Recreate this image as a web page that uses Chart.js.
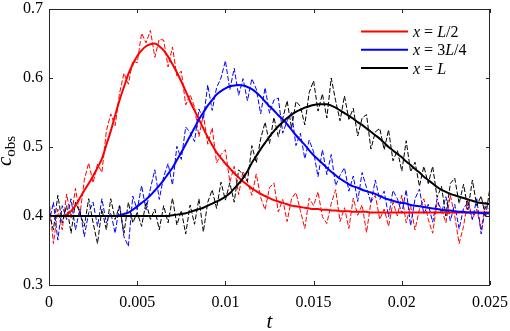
<!DOCTYPE html>
<html>
<head>
<meta charset="utf-8">
<script src="https://cdn.jsdelivr.net/npm/chart.js@4.4.1/dist/chart.umd.min.js"></script>
<style>
  html, body { margin: 0; padding: 0; background: #fff; }
  #wrap { width: 510px; height: 331px; }
</style>
</head>
<body>
<div id="wrap"><canvas id="chart" width="510" height="331"></canvas></div>
<script>
// sample times
const tVals = [
  0, 0.00025, 0.0005, 0.00075, 0.001, 0.00125, 0.0015, 0.00175, 0.002, 0.00225,
  0.0025, 0.00275, 0.003, 0.00325, 0.0035, 0.00375, 0.004, 0.00425, 0.0045, 0.00475,
  0.005, 0.00525, 0.0055, 0.00575, 0.006, 0.00625, 0.0065, 0.00675, 0.007, 0.00725,
  0.0075, 0.00775, 0.008, 0.00825, 0.0085, 0.00875, 0.009, 0.00925, 0.0095, 0.00975,
  0.01, 0.01025, 0.0105, 0.01075, 0.011, 0.01125, 0.0115, 0.01175, 0.012, 0.01225,
  0.0125, 0.01275, 0.013, 0.01325, 0.0135, 0.01375, 0.014, 0.01425, 0.0145, 0.01475,
  0.015, 0.01525, 0.0155, 0.01575, 0.016, 0.01625, 0.0165, 0.01675, 0.017, 0.01725,
  0.0175, 0.01775, 0.018, 0.01825, 0.0185, 0.01875, 0.019, 0.01925, 0.0195, 0.01975,
  0.02, 0.02025, 0.0205, 0.02075, 0.021, 0.02125, 0.0215, 0.02175, 0.022, 0.02225,
  0.0225, 0.02275, 0.023, 0.02325, 0.0235, 0.02375, 0.024, 0.02425, 0.0245, 0.02475,
  0.025
];

// fitted curves
const fitHalf = [
  0.400, 0.400, 0.400, 0.400, 0.402, 0.407, 0.415, 0.426, 0.437, 0.447,
  0.458, 0.470, 0.483, 0.503, 0.523, 0.546, 0.568, 0.587, 0.606, 0.620,
  0.632, 0.640, 0.646, 0.649, 0.650, 0.646, 0.640, 0.631, 0.620, 0.608,
  0.595, 0.581, 0.566, 0.553, 0.540, 0.527, 0.514, 0.503, 0.492, 0.484,
  0.476, 0.469, 0.462, 0.456, 0.450, 0.445, 0.440, 0.436, 0.432, 0.429,
  0.426, 0.423, 0.421, 0.419, 0.417, 0.415, 0.414, 0.413, 0.412, 0.411,
  0.410, 0.410, 0.409, 0.409, 0.408, 0.408, 0.407, 0.407, 0.407, 0.406,
  0.406, 0.406, 0.406, 0.405, 0.405, 0.405, 0.405, 0.405, 0.405, 0.405,
  0.405, 0.405, 0.405, 0.405, 0.405, 0.405, 0.405, 0.405, 0.405, 0.405,
  0.405, 0.405, 0.405, 0.405, 0.405, 0.405, 0.405, 0.405, 0.405, 0.405,
  0.405
];
const fitThreeQ = [
  0.400, 0.400, 0.400, 0.400, 0.400, 0.400, 0.400, 0.400, 0.400, 0.400,
  0.400, 0.400, 0.400, 0.400, 0.400, 0.400, 0.401, 0.403, 0.405, 0.409,
  0.414, 0.419, 0.424, 0.430, 0.437, 0.444, 0.452, 0.461, 0.470, 0.481,
  0.492, 0.504, 0.516, 0.528, 0.540, 0.550, 0.560, 0.568, 0.576, 0.581,
  0.585, 0.588, 0.589, 0.590, 0.589, 0.587, 0.584, 0.579, 0.573, 0.566,
  0.559, 0.553, 0.546, 0.540, 0.533, 0.525, 0.517, 0.510, 0.503, 0.495,
  0.488, 0.482, 0.476, 0.470, 0.464, 0.459, 0.454, 0.450, 0.446, 0.443,
  0.441, 0.438, 0.436, 0.434, 0.432, 0.429, 0.426, 0.424, 0.422, 0.420,
  0.419, 0.418, 0.416, 0.415, 0.414, 0.413, 0.412, 0.411, 0.410, 0.409,
  0.408, 0.408, 0.407, 0.406, 0.406, 0.405, 0.405, 0.405, 0.404, 0.404,
  0.404
];
const fitFull = [
  0.400, 0.400, 0.400, 0.400, 0.400, 0.400, 0.400, 0.400, 0.400, 0.400,
  0.400, 0.400, 0.400, 0.400, 0.400, 0.400, 0.400, 0.400, 0.400, 0.400,
  0.400, 0.400, 0.400, 0.400, 0.400, 0.400, 0.400, 0.400, 0.401, 0.402,
  0.403, 0.404, 0.406, 0.408, 0.410, 0.412, 0.415, 0.418, 0.421, 0.424,
  0.428, 0.433, 0.440, 0.447, 0.455, 0.465, 0.477, 0.487, 0.497, 0.506,
  0.515, 0.523, 0.530, 0.536, 0.542, 0.547, 0.551, 0.554, 0.557, 0.559,
  0.561, 0.562, 0.562, 0.562, 0.560, 0.557, 0.553, 0.549, 0.545, 0.541,
  0.536, 0.532, 0.527, 0.522, 0.517, 0.512, 0.506, 0.500, 0.495, 0.490,
  0.485, 0.479, 0.474, 0.468, 0.463, 0.457, 0.452, 0.447, 0.442, 0.438,
  0.435, 0.432, 0.430, 0.428, 0.426, 0.424, 0.422, 0.420, 0.419, 0.418,
  0.417
];

// observed (noisy) data
const obsHalf = [
  0.425, 0.360, 0.410, 0.380, 0.432, 0.397, 0.440, 0.401, 0.452, 0.477,
  0.448, 0.475, 0.463, 0.523, 0.548, 0.531, 0.578, 0.607, 0.591, 0.625,
  0.622, 0.665, 0.651, 0.669, 0.630, 0.656, 0.655, 0.616, 0.645, 0.603,
  0.610, 0.561, 0.576, 0.558, 0.515, 0.547, 0.504, 0.528, 0.477, 0.489,
  0.496, 0.449, 0.472, 0.431, 0.465, 0.450, 0.430, 0.461, 0.427, 0.409,
  0.441, 0.448, 0.406, 0.424, 0.392, 0.425, 0.434, 0.408, 0.382, 0.426,
  0.415, 0.435, 0.399, 0.389, 0.418, 0.438, 0.392, 0.412, 0.382, 0.426,
  0.401, 0.416, 0.376, 0.420, 0.430, 0.395, 0.410, 0.385, 0.420, 0.400,
  0.430, 0.390, 0.415, 0.380, 0.410, 0.425, 0.395, 0.375, 0.420, 0.410,
  0.390, 0.430, 0.400, 0.360, 0.385, 0.425, 0.395, 0.410, 0.380, 0.420,
  0.415
];
const obsThreeQ = [
  0.390, 0.420, 0.365, 0.415, 0.395, 0.425, 0.380, 0.410, 0.370, 0.405,
  0.420, 0.385, 0.425, 0.390, 0.405, 0.375, 0.416, 0.370, 0.356, 0.429,
  0.409, 0.444, 0.409, 0.440, 0.467, 0.424, 0.457, 0.476, 0.445, 0.501,
  0.482, 0.529, 0.521, 0.508, 0.555, 0.540, 0.590, 0.553, 0.586, 0.600,
  0.625, 0.583, 0.614, 0.575, 0.599, 0.567, 0.599, 0.584, 0.548, 0.586,
  0.549, 0.568, 0.571, 0.520, 0.538, 0.550, 0.502, 0.520, 0.483, 0.510,
  0.493, 0.457, 0.496, 0.460, 0.489, 0.444, 0.459, 0.470, 0.436, 0.458,
  0.421, 0.463, 0.441, 0.419, 0.452, 0.424, 0.436, 0.399, 0.437, 0.425,
  0.404, 0.438, 0.386, 0.425, 0.439, 0.403, 0.417, 0.391, 0.425, 0.404,
  0.428, 0.393, 0.417, 0.381, 0.411, 0.420, 0.395, 0.425, 0.374, 0.414,
  0.409
];
const obsFull = [
  0.405, 0.380, 0.430, 0.390, 0.415, 0.375, 0.420, 0.405, 0.385, 0.425,
  0.390, 0.360, 0.410, 0.380, 0.425, 0.395, 0.415, 0.375, 0.420, 0.390,
  0.405, 0.385, 0.420, 0.395, 0.410, 0.380, 0.415, 0.390, 0.426, 0.387,
  0.408, 0.374, 0.416, 0.388, 0.425, 0.377, 0.420, 0.438, 0.411, 0.449,
  0.423, 0.448, 0.420, 0.467, 0.460, 0.450, 0.502, 0.477, 0.512, 0.536,
  0.505, 0.543, 0.515, 0.541, 0.567, 0.527, 0.566, 0.559, 0.532, 0.579,
  0.596, 0.552, 0.577, 0.542, 0.600, 0.567, 0.538, 0.574, 0.540, 0.556,
  0.516, 0.542, 0.547, 0.497, 0.522, 0.527, 0.496, 0.525, 0.480, 0.495,
  0.465, 0.509, 0.464, 0.478, 0.443, 0.472, 0.447, 0.472, 0.427, 0.443,
  0.400, 0.447, 0.455, 0.418, 0.446, 0.409, 0.452, 0.415, 0.429, 0.398,
  0.442
];

const xTicks = [0, 0.005, 0.01, 0.015, 0.02, 0.025];
const yTicks = [0.3, 0.4, 0.5, 0.6, 0.7];

const legendItems = [
  { color: '#ff0000', runs: [['x', true], [' = ', false], ['L', true], ['/2', false]] },
  { color: '#0000ff', runs: [['x', true], [' = 3', false], ['L', true], ['/4', false]] },
  { color: '#000000', runs: [['x', true], [' = ', false], ['L', true]] }
];

const SERIF = '"Liberation Serif", "DejaVu Serif", serif';
const AXIS_COLOR = '#262626';

function toPoints(ys) {
    return tVals.map((t, i) => ({ x: t, y: ys[i] }));
}

function noisySet(ys, color, order) {
    return {
        data: toPoints(ys),
        borderColor: color,
        borderWidth: 1,
        borderDash: [5, 2],
        pointRadius: 0,
        fill: false,
        tension: 0,
        order: order
    };
}

function fitSet(ys, color, order) {
    return {
        data: toPoints(ys),
        borderColor: color,
        borderWidth: 2,
        pointRadius: 0,
        fill: false,
        cubicInterpolationMode: 'monotone',
        order: order
    };
}

// frame, inward ticks, axis titles and legend
const decorPlugin = {
    id: 'decor',
    afterDraw(chart) {
        const ctx = chart.ctx;
        const area = chart.chartArea;
        const xs = chart.scales.x;
        const ys = chart.scales.y;
        ctx.save();
        ctx.strokeStyle = AXIS_COLOR;
        ctx.lineWidth = 1;
        ctx.strokeRect(Math.round(area.left) + 0.5, Math.round(area.top) + 0.5,
            Math.round(area.right - area.left) - 1, Math.round(area.bottom - area.top));

        const tl = 4;
        ctx.beginPath();
        xTicks.forEach(v => {
            const px = Math.round(xs.getPixelForValue(v)) + 0.5;
            ctx.moveTo(px, area.bottom); ctx.lineTo(px, area.bottom - tl);
            ctx.moveTo(px, area.top); ctx.lineTo(px, area.top + tl);
        });
        yTicks.forEach(v => {
            const py = Math.round(ys.getPixelForValue(v)) + 0.5;
            ctx.moveTo(area.left, py); ctx.lineTo(area.left + tl, py);
            ctx.moveTo(area.right, py); ctx.lineTo(area.right - tl, py);
        });
        ctx.stroke();

        // x title
        ctx.fillStyle = '#000';
        ctx.font = 'italic 21px ' + SERIF;
        ctx.textAlign = 'center';
        ctx.textBaseline = 'alphabetic';
        ctx.fillText('t', (area.left + area.right) / 2, 328);

        // y title c_obs
        ctx.save();
        ctx.translate(11, 151);
        ctx.rotate(-Math.PI / 2);
        ctx.textAlign = 'left';
        ctx.font = 'italic 21px ' + SERIF;
        const cw = ctx.measureText('c').width;
        ctx.font = '15px ' + SERIF;
        const sw = ctx.measureText('obs').width;
        const start = -(cw + sw) / 2;
        ctx.font = 'italic 21px ' + SERIF;
        ctx.fillText('c', start, 0);
        ctx.font = '15px ' + SERIF;
        ctx.fillText('obs', start + cw, 4);
        ctx.restore();

        // legend
        legendItems.forEach((item, i) => {
            const ly = 31.5 + i * 18.3;
            ctx.strokeStyle = item.color;
            ctx.lineWidth = 2;
            ctx.beginPath();
            ctx.moveTo(361, ly); ctx.lineTo(408, ly);
            ctx.stroke();
            let x = 413;
            ctx.fillStyle = '#000';
            ctx.textAlign = 'left';
            item.runs.forEach(([txt, ital]) => {
                ctx.font = (ital ? 'italic ' : '') + '16px ' + SERIF;
                ctx.fillText(txt, x, ly + 5.5);
                x += ctx.measureText(txt).width;
            });
        });
        ctx.restore();
    }
};

new Chart(document.getElementById('chart'), {
    type: 'line',
    data: {
        datasets: [
            fitSet(fitFull, '#000000', 1),
            fitSet(fitThreeQ, '#0000ff', 2),
            fitSet(fitHalf, '#ff0000', 3),
            noisySet(obsFull, '#000000', 4),
            noisySet(obsThreeQ, '#0000ff', 5),
            noisySet(obsHalf, '#ff0000', 6)
        ]
    },
    options: {
        responsive: false,
        animation: false,
        layout: { padding: { top: 9, right: 20, left: 0, bottom: 0 } },
        plugins: {
            legend: { display: false },
            tooltip: { enabled: false }
        },
        scales: {
            x: {
                type: 'linear',
                min: 0,
                max: 0.025,
                afterFit(scale) {
                    scale.height = 46;
                    scale.paddingLeft = 0;
                    scale.paddingRight = 0;
                },
                afterBuildTicks(scale) { scale.ticks = xTicks.map(v => ({ value: v })); },
                grid: { display: false, drawTicks: false },
                border: { display: false },
                ticks: {
                    color: '#000',
                    padding: 8,
                    maxRotation: 0,
                    font: { family: SERIF, size: 16 },
                    callback: v => String(Number(v.toFixed(4)))
                }
            },
            y: {
                min: 0.3,
                max: 0.7,
                afterFit(scale) {
                    scale.width = 49;
                    scale.paddingTop = 0;
                    scale.paddingBottom = 0;
                },
                afterBuildTicks(scale) { scale.ticks = yTicks.map(v => ({ value: v })); },
                grid: { display: false, drawTicks: false },
                border: { display: false },
                ticks: {
                    color: '#000',
                    padding: 6,
                    font: { family: SERIF, size: 16 },
                    callback: v => v.toFixed(1)
                }
            }
        }
    },
    plugins: [decorPlugin]
});
</script>
</body>
</html>
